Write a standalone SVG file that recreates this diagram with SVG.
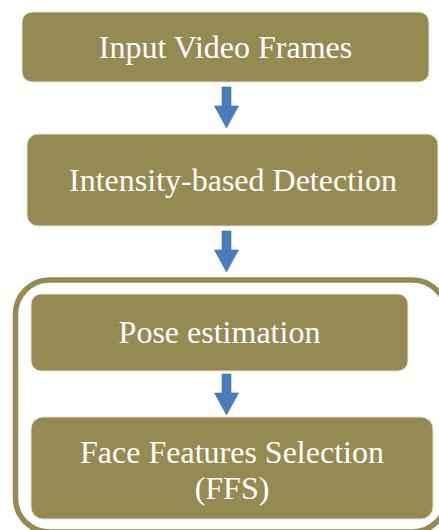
<svg xmlns="http://www.w3.org/2000/svg" width="439" height="530" viewBox="0 0 439 530">
  <style>
    .box { fill: #968a53; stroke: #e8e4d4; stroke-width: 1; }
    .frame { fill: none; stroke: #968a53; stroke-width: 5.5; }
    .arrow { fill: #4a7ebb; stroke: #44729f; stroke-width: 0.6; }
    .label { font-family: "Liberation Serif", "Times New Roman", serif; font-size: 32px; fill: #ffffff; text-anchor: middle; }
  </style>
  <rect width="439" height="530" fill="#ffffff"/>

  <!-- enclosing frame around the last two stages -->
  <g id="group-frame">
    <rect class="frame" x="15.5" y="280" width="431" height="252" rx="34" ry="34"/>
  </g>

  <g id="node-input">
    <rect class="box" x="22" y="12" width="407" height="70" rx="10" ry="10"/>
    <text class="label" x="225.5" y="58">Input Video Frames</text>
  </g>

  <g id="node-detection">
    <rect class="box" x="27" y="134" width="411" height="92" rx="11" ry="11"/>
    <text class="label" x="233" y="191">Intensity-based Detection</text>
  </g>

  <g id="node-pose">
    <rect class="box" x="31" y="294" width="377" height="77" rx="10" ry="10"/>
    <text class="label" x="219.5" y="343">Pose estimation</text>
  </g>

  <g id="node-ffs">
    <rect class="box" x="31" y="417" width="402" height="102" rx="12" ry="12"/>
    <text class="label" x="232" y="463">Face Features Selection</text>
    <text class="label" x="232" y="499">(FFS)</text>
  </g>

  <g id="connectors">
    <path class="arrow" d="M222,87 H231 V106 H238.5 L226.5,128 L214.5,106 H222 Z"/>
    <path class="arrow" d="M222,231 H231 V250 H238.5 L226.5,272 L214.5,250 H222 Z"/>
    <path class="arrow" d="M222,374 H231 V393 H238.5 L226.5,415 L214.5,393 H222 Z"/>
  </g>
</svg>
